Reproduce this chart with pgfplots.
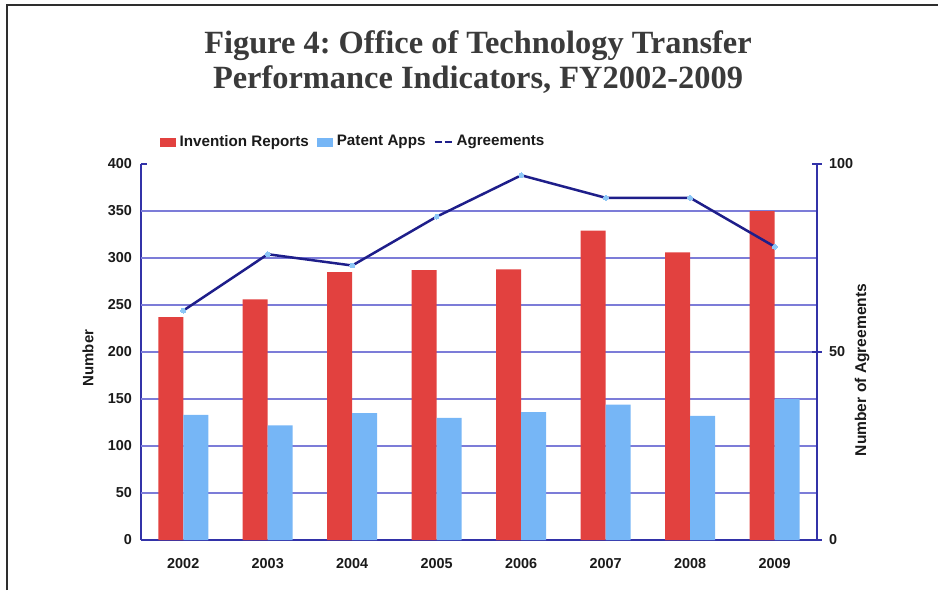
\documentclass[border=0pt]{standalone}
\usepackage{fontspec}
\setmainfont{Liberation Serif}
\newfontfamily\arial{Liberation Sans}
\usepackage{pgfplots}
\pgfplotsset{compat=1.18}
\definecolor{redbar}{HTML}{E2413F}
\definecolor{bluebar}{HTML}{76B6F6}
\definecolor{agline}{HTML}{1E1E8A}
\definecolor{agmark}{HTML}{8CC6F6}
\definecolor{gridcol}{HTML}{7C7CD8}
\definecolor{axiscol}{HTML}{3232A8}
\definecolor{titlecol}{HTML}{3A3A3A}
\definecolor{framecol}{HTML}{2E2E2E}
\definecolor{textcol}{HTML}{1A1A1A}

\begin{document}
\frenchspacing
\begin{tikzpicture}[x=0.5pt,y=0.5pt]
\useasboundingbox (0,0) rectangle (938,590);
% frame (open at right and bottom)
\draw[framecol, line width=1.2pt] (7,0) -- (7,585) -- (938,585);

% title
\node[font=\fontsize{16.2}{17.5}\selectfont\bfseries, text=titlecol, align=center]
  at (478,528) {Figure 4: Office of Technology Transfer\\Performance Indicators, FY2002-2009};

% bars, left axis
\begin{axis}[
  at={(141pt*0.5,50pt*0.5)}, anchor=south west,
  scale only axis, width=338pt, height=188pt,
  xmin=-0.5, xmax=7.5, ymin=0, ymax=400,
  axis x line*=bottom, axis y line*=left,
  ybar=0pt, bar width=12.5pt,
  xtick={0,...,7},
  xticklabels={2002,2003,2004,2005,2006,2007,2008,2009},
  xtick style={draw=none},
  ytick={0,50,...,400},
  extra y ticks={50,100,...,350},
  extra y tick labels={},
  extra y tick style={grid=major, major tick length=0pt},
  grid style={gridcol, line width=0.55pt},
  axis line style={axiscol, line width=1pt},
  ytick style={axiscol, line width=0.6pt},
  major tick length=3pt,
  tick label style={font=\arial\bfseries\fontsize{7.2}{8}\selectfont, text=textcol},
  yticklabel style={xshift=-1pt},
  /pgf/number format/assume math mode=true,
  xticklabel style={yshift=-2.5pt},
  legend columns=3,
  legend style={draw=none, fill=none, at={(0.027,1.058)}, anchor=west,
    font=\arial\bfseries\fontsize{7.6}{8}\selectfont, text=textcol,
    /tikz/every even column/.append style={column sep=2pt},
    inner sep=0pt},
]
  \addplot[fill=redbar, draw=none,
    legend image code/.code={\fill[redbar] (0pt,-2.3pt) rectangle (8pt,2.3pt);}]
  coordinates {(0,237)(1,256)(2,285)(3,287)(4,288)(5,329)(6,306)(7,350)};
  \addlegendentry{Invention Reports}

  \addplot[fill=bluebar, draw=none,
    legend image code/.code={\fill[bluebar] (0pt,-2.3pt) rectangle (8pt,2.3pt);}]
  coordinates {(0,133)(1,122)(2,135)(3,130)(4,136)(5,144)(6,132)(7,150)};
  \addlegendentry{Patent Apps}

  \addlegendimage{legend image code/.code={\draw[agline, line width=1pt, dash pattern=on 3.5pt off 1.5pt] (0pt,0pt) -- (8.5pt,0pt);}}
  \addlegendentry{Agreements}
\end{axis}

% agreements line, right axis
\begin{axis}[
  at={(141pt*0.5,50pt*0.5)}, anchor=south west,
  scale only axis, width=338pt, height=188pt,
  xmin=-0.5, xmax=7.5, ymin=0, ymax=100,
  axis x line=none, axis y line*=right,
  ytick={0,50,100},
  axis line style={axiscol, line width=1pt},
  ytick style={axiscol, line width=0.6pt},
  tick align=center, major tick length=5pt,
  tick label style={font=\arial\bfseries\fontsize{7.2}{8}\selectfont, text=textcol},
  /pgf/number format/assume math mode=true,
]
  \addplot[agline, line width=1.25pt, mark=*, mark size=1.2pt,
    mark options={solid, draw=agmark, fill=agmark, line width=0pt}]
  coordinates {(0,61)(1,76)(2,73)(3,86)(4,97)(5,91)(6,91)(7,78)};
\end{axis}

% axis titles
\node[rotate=90, font=\arial\bfseries\fontsize{7.5}{9}\selectfont, text=textcol] at (88,232) {Number};
\node[rotate=90, font=\arial\bfseries\fontsize{7.8}{9}\selectfont, text=textcol] at (862,220) {Number of Agreements};
\end{tikzpicture}
\end{document}
